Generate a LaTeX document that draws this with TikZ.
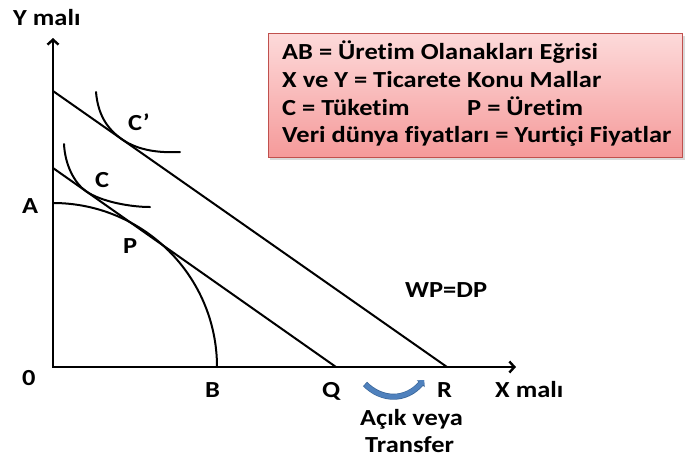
\documentclass[tikz,border=0pt]{standalone}
\usepackage{fontspec}
\setmainfont{Carlito}[FakeStretch=1.15,Ligatures={NoCommon}]
\usetikzlibrary{arrows.meta}
\definecolor{arrowblue}{HTML}{4F81BD}
\definecolor{arrowedge}{HTML}{3A6699}
\definecolor{boxtop}{HTML}{FDDADA}
\definecolor{boxbot}{HTML}{F59A9A}
\definecolor{boxborder}{HTML}{C0504D}
\begin{document}
\begin{tikzpicture}[x=1pt,y=-1pt,
  lbl/.style={font=\fontsize{23}{27}\selectfont\bfseries, inner sep=0pt, anchor=base west},
  curve/.style={line width=2pt, line cap=round},
  axis/.style={line width=2.4pt, {Straight Barb[length=5pt,width=11pt]}-{Straight Barb[length=5pt,width=11pt]}}]
\useasboundingbox (0,0) rectangle (685,459);
% key points
\coordinate (O) at (53,367);
\coordinate (Ytop) at (53,38);
\coordinate (Xend) at (516,367);
\coordinate (A) at (53,203);
\coordinate (B) at (217,367);
\coordinate (Q) at (336,367);
\coordinate (R) at (447,367);
\coordinate (L1) at (53,168);
\coordinate (L2) at (53,91);
% axes
\draw[axis] (Ytop) -- (O) -- (Xend);
% production possibilities curve
\draw[curve] (A) arc[start angle=-90, end angle=0, radius=164];
% price lines
\draw[curve] (L1) -- (Q);
\draw[curve] (L2) -- (R);
% indifference curves
\coordinate (Tc1) at (122,139.3);
\draw[curve] (96,92) .. controls (98,115) and (107.3,129.0) .. (Tc1)
  .. controls (138.4,150.8) and (160,153) .. (180,152);
\coordinate (Tc2) at (86,191.2);
\draw[curve] (64,144) .. controls (65,165) and (74.5,183.2) .. (Tc2)
  .. controls (100.7,201.5) and (130,207) .. (150,207);
% labels
\node[lbl] (ylab) at (13,25) {Y malı};
\node[lbl] (xlab) at (495,397) {X malı};
\node[lbl] (lA) at (22,213) {A};
\node[lbl] (l0) at (22,385) {0};
\node[lbl] (lB) at (205,397) {B};
\node[lbl] (lQ) at (322,397) {Q};
\node[lbl] (lR) at (437,397) {R};
\node[lbl] (lP) at (123,253) {P};
\node[lbl] (lC) at (95,187) {C};
\node[lbl] (lCp) at (128,130) {C’};
\node[lbl] (lWP) at (405,297) {WP=DP};
\node[lbl] (lac) at (360,425) {Açık veya};
\node[lbl] (ltr) at (365,452) {Transfer};
% blue curved arrow
\coordinate (Ba) at (365,384);
\coordinate (Bb) at (424,380);
\draw[line width=6pt, arrowedge, -{Triangle[length=5pt,width=10pt]}]
  (Ba) .. controls (382,401) and (406,401) .. (Bb);
\draw[line width=4.6pt, arrowblue, shorten <=0.7pt, -{Triangle[length=4pt,width=8pt]}]
  (Ba) .. controls (382,401) and (406,401) .. (Bb);
% legend box
\fill[black!15] (270,36) rectangle (685,160);
\shade[top color=boxtop, bottom color=boxbot, draw=boxborder, line width=0.8pt]
  (268,33) rectangle (682,157);
\node[lbl] (t1) at (282,59) {AB = Üretim Olanakları Eğrisi};
\node[lbl] (t2) at (282,87) {X ve Y = Ticarete Konu Mallar};
\node[lbl] (t3) at (282,115) {C = Tüketim};
\node[lbl] (t3b) at (467,115) {P = Üretim};
\node[lbl] (t4) at (282,142.5) {Veri dünya fiyatları = Yurtiçi Fiyatlar};
\end{tikzpicture}
\end{document}
